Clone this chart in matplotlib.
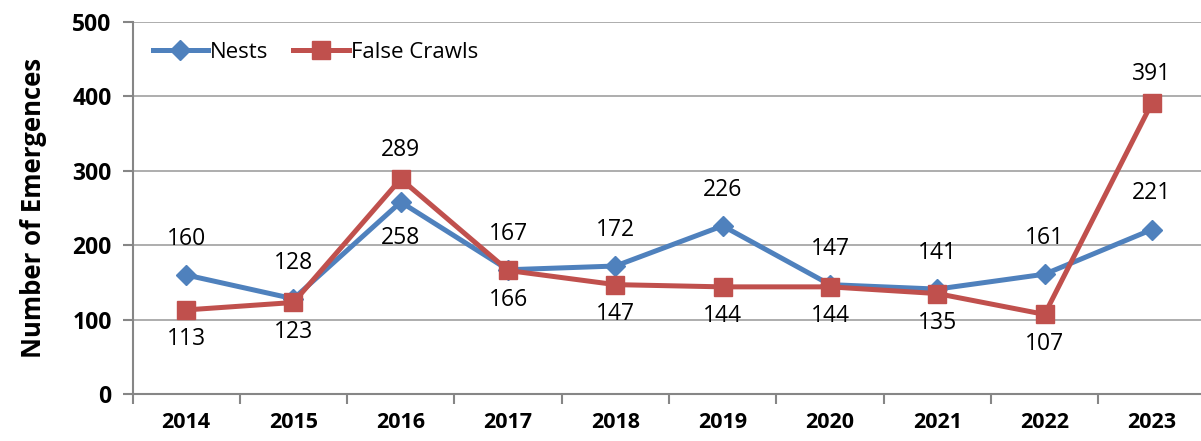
import matplotlib.pyplot as plt

years = ["2014", "2015", "2016", "2017", "2018", "2019", "2020", "2021", "2022", "2023"]
nests = [160, 128, 258, 167, 172, 226, 147, 141, 161, 221]
false_crawls = [113, 123, 289, 166, 147, 144, 144, 135, 107, 391]
# label above (1) or below (-1) the point
nests_pos = [1, 1, -1, 1, 1, 1, 1, 1, 1, 1]
crawls_pos = [-1, -1, 1, -1, -1, -1, -1, -1, -1, 1]

plt.rcParams['font.family'] = ['Open Sans', 'DejaVu Sans']

fig = plt.figure(figsize=(12.01, 4.41), dpi=100)
ax = fig.add_axes([132.5 / 1201, 1 - 394 / 441, 1073 / 1201, 372 / 441])

x = list(range(len(years)))
blue = '#4F81BD'
red = '#C0504D'

ax.plot(x, nests, color=blue, lw=3.6, marker='D', ms=10, label='Nests', zorder=3)
ax.plot(x, false_crawls, color=red, lw=3.6, marker='s', ms=12.5, label='False Crawls', zorder=4)

for i in x:
    ax.annotate(str(nests[i]), (i, nests[i]), xytext=(0, 26 * nests_pos[i]),
                textcoords='offset points', ha='center', va='center', fontsize=16.5)
    ax.annotate(str(false_crawls[i]), (i, false_crawls[i]), xytext=(0, 21 * crawls_pos[i]),
                textcoords='offset points', ha='center', va='center', fontsize=16.5)

ax.set_xlim(-0.5, len(years) - 0.5)
ax.set_ylim(0, 500)
ax.set_yticks(range(0, 501, 100))
ax.set_xticks(x)
ax.set_xticklabels(years, fontsize=15.5, fontweight='bold')
ax.set_xticks([i - 0.5 for i in x] + [len(years) - 0.5], minor=True)
ax.tick_params(axis='x', which='major', length=0, pad=13)
ax.tick_params(axis='x', which='minor', length=7, color='#868686', width=1.5)
ax.tick_params(axis='y', length=7, color='#868686', width=1.5, labelsize=16.5, pad=8)
for lab in ax.get_yticklabels():
    lab.set_fontweight('bold')

ax.grid(axis='y', color='#A0A0A0', lw=1.2)
ax.set_axisbelow(True)
for s in ['top', 'right']:
    ax.spines[s].set_visible(False)
for s in ['left', 'bottom']:
    ax.spines[s].set_color('#868686')
    ax.spines[s].set_linewidth(1.5)

ax.set_ylabel('Number of Emergences', fontsize=18.5, fontweight='bold', labelpad=18)

ax.legend(loc='upper left', ncol=2, frameon=False, fontsize=16, handlelength=2.5,
          handletextpad=0.1, columnspacing=1.1, bbox_to_anchor=(0.0, 1.0))

fig.savefig('out.png', dpi=100)
